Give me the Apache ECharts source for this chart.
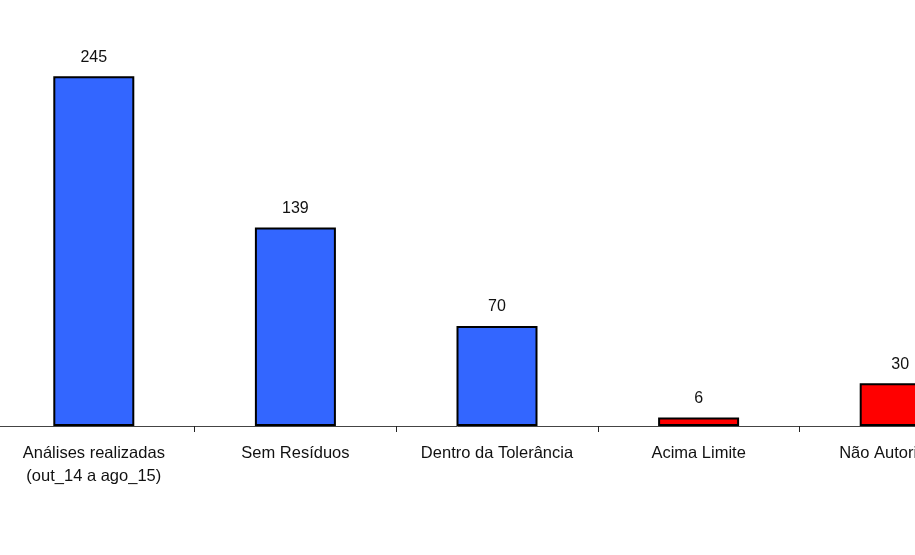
<!DOCTYPE html>
<html>
<head>
<meta charset="utf-8">
<script src="https://cdn.jsdelivr.net/npm/echarts@6/dist/echarts.min.js"></script>
<style>
html,body{margin:0;padding:0;background:#fff;}
#chart{width:915px;height:555px;}
</style>
</head>
<body>
<div id="chart"></div>
<script>
var categories = ['Análises realizadas\n(out_14 a ago_15)', 'Sem Resíduos', 'Dentro da Tolerância', 'Acima Limite', 'Não Autorizados'];
var values = [245, 139, 70, 6, 30];
var barColors = ['#3366FF', '#3366FF', '#3366FF', '#FF0000', '#FF0000'];

var chart = echarts.init(document.getElementById('chart'));
var font = "'Liberation Sans', Arial, sans-serif";
chart.setOption({
  animation: false,
  backgroundColor: '#ffffff',
  grid: { left: -7, width: 1008, top: 69, height: 357, containLabel: false, outerBoundsMode: 'none' },
  xAxis: {
    type: 'category',
    data: categories,
    axisLine: { show: true, lineStyle: { color: '#444444', width: 1 } },
    axisTick: { show: true, length: 6, lineStyle: { color: '#222222' } },
    axisLabel: { color: '#111111', fontFamily: font, fontSize: 16.5, lineHeight: 23, margin: 16, interval: 0 }
  },
  yAxis: {
    type: 'value',
    min: 0,
    max: 250,
    show: false,
    splitLine: { show: false }
  },
  series: [{
    type: 'bar',
    barWidth: 81,
    data: values.map(function (v, i) {
      return { value: v, itemStyle: { color: barColors[i] } };
    }),
    itemStyle: { borderColor: '#000000', borderWidth: 2 },
    label: { show: true, position: 'top', distance: 11, color: '#111111', fontFamily: font, fontSize: 16 }
  }]
});
</script>
</body>
</html>
